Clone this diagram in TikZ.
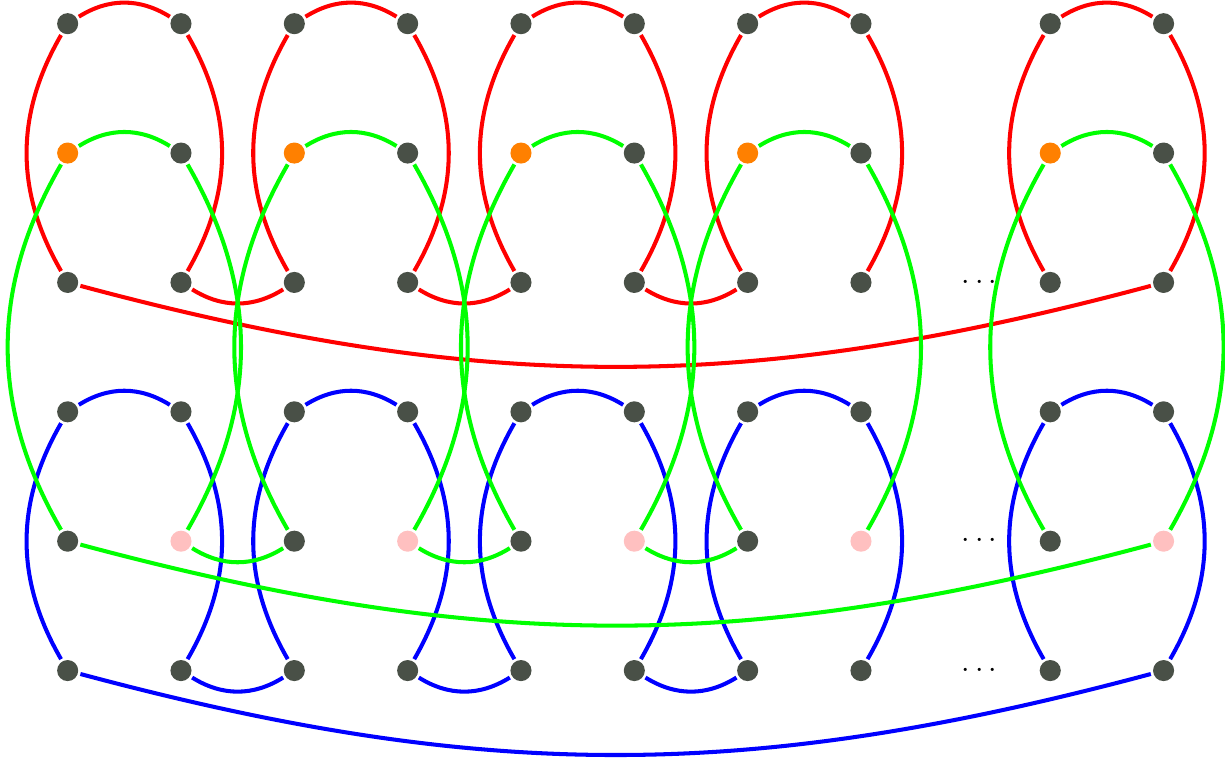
\documentclass[tikz,border=0pt]{standalone}
\definecolor{vgray}{HTML}{495047}
\definecolor{vorange}{HTML}{FF8000}
\definecolor{vpink}{HTML}{FFC0C0}
\definecolor{lred}{HTML}{FF0000}
\definecolor{lgreen}{HTML}{00FF00}
\definecolor{lblue}{HTML}{0000FF}

\begin{document}
\begin{tikzpicture}[x=2.267cm, y=2.588cm, line width=2.3pt,
  vtx/.style={circle, fill=vgray, minimum size=12pt, inner sep=0pt, outer sep=1.5pt},
  dotsnode/.style={font=\LARGE, inner sep=0pt}]
  \useasboundingbox (-0.597,0.183) rectangle (10.212,-5.698);
  % vertices: six rows, five pairs of columns
  \foreach \r in {0,...,5}{
    \foreach \c/\x in {0/0, 1/1, 2/2, 3/3, 4/4, 5/5, 6/6, 7/7, 8/8.67, 9/9.67}{
      \def\vfill{vgray}
      \ifnum\r=1 \ifodd\c\relax\else\def\vfill{vorange}\fi\fi
      \ifnum\r=4 \ifodd\c\relax\def\vfill{vpink}\fi\fi
      \node[vtx, fill=\vfill] (n\r-\c) at (\x,-\r) {};
    }
  }
  % three chains: red, blue, green
  \foreach \col/\t/\b in {lred/0/2, lblue/3/5, lgreen/1/4}{
    \foreach \c in {0,2,4,6,8}{
      \pgfmathtruncatemacro\d{\c+1}
      \draw[\col] (n\t-\c) to[bend left=32] (n\t-\d);
      \draw[\col] (n\t-\c) to[bend right=30] (n\b-\c);
      \draw[\col] (n\t-\d) to[bend left=30] (n\b-\d);
    }
    \foreach \c/\d in {1/2, 3/4, 5/6}{
      \draw[\col] (n\b-\c) to[bend right=32] (n\b-\d);
    }
    \draw[\col] (n\b-0) to[bend right=15] (n\b-9);
  }
  % dots
  \foreach \r in {2,4,5}{
    \node[dotsnode] (dots\r) at (8.044,-\r) {$\cdots$};
  }
\end{tikzpicture}
\end{document}
